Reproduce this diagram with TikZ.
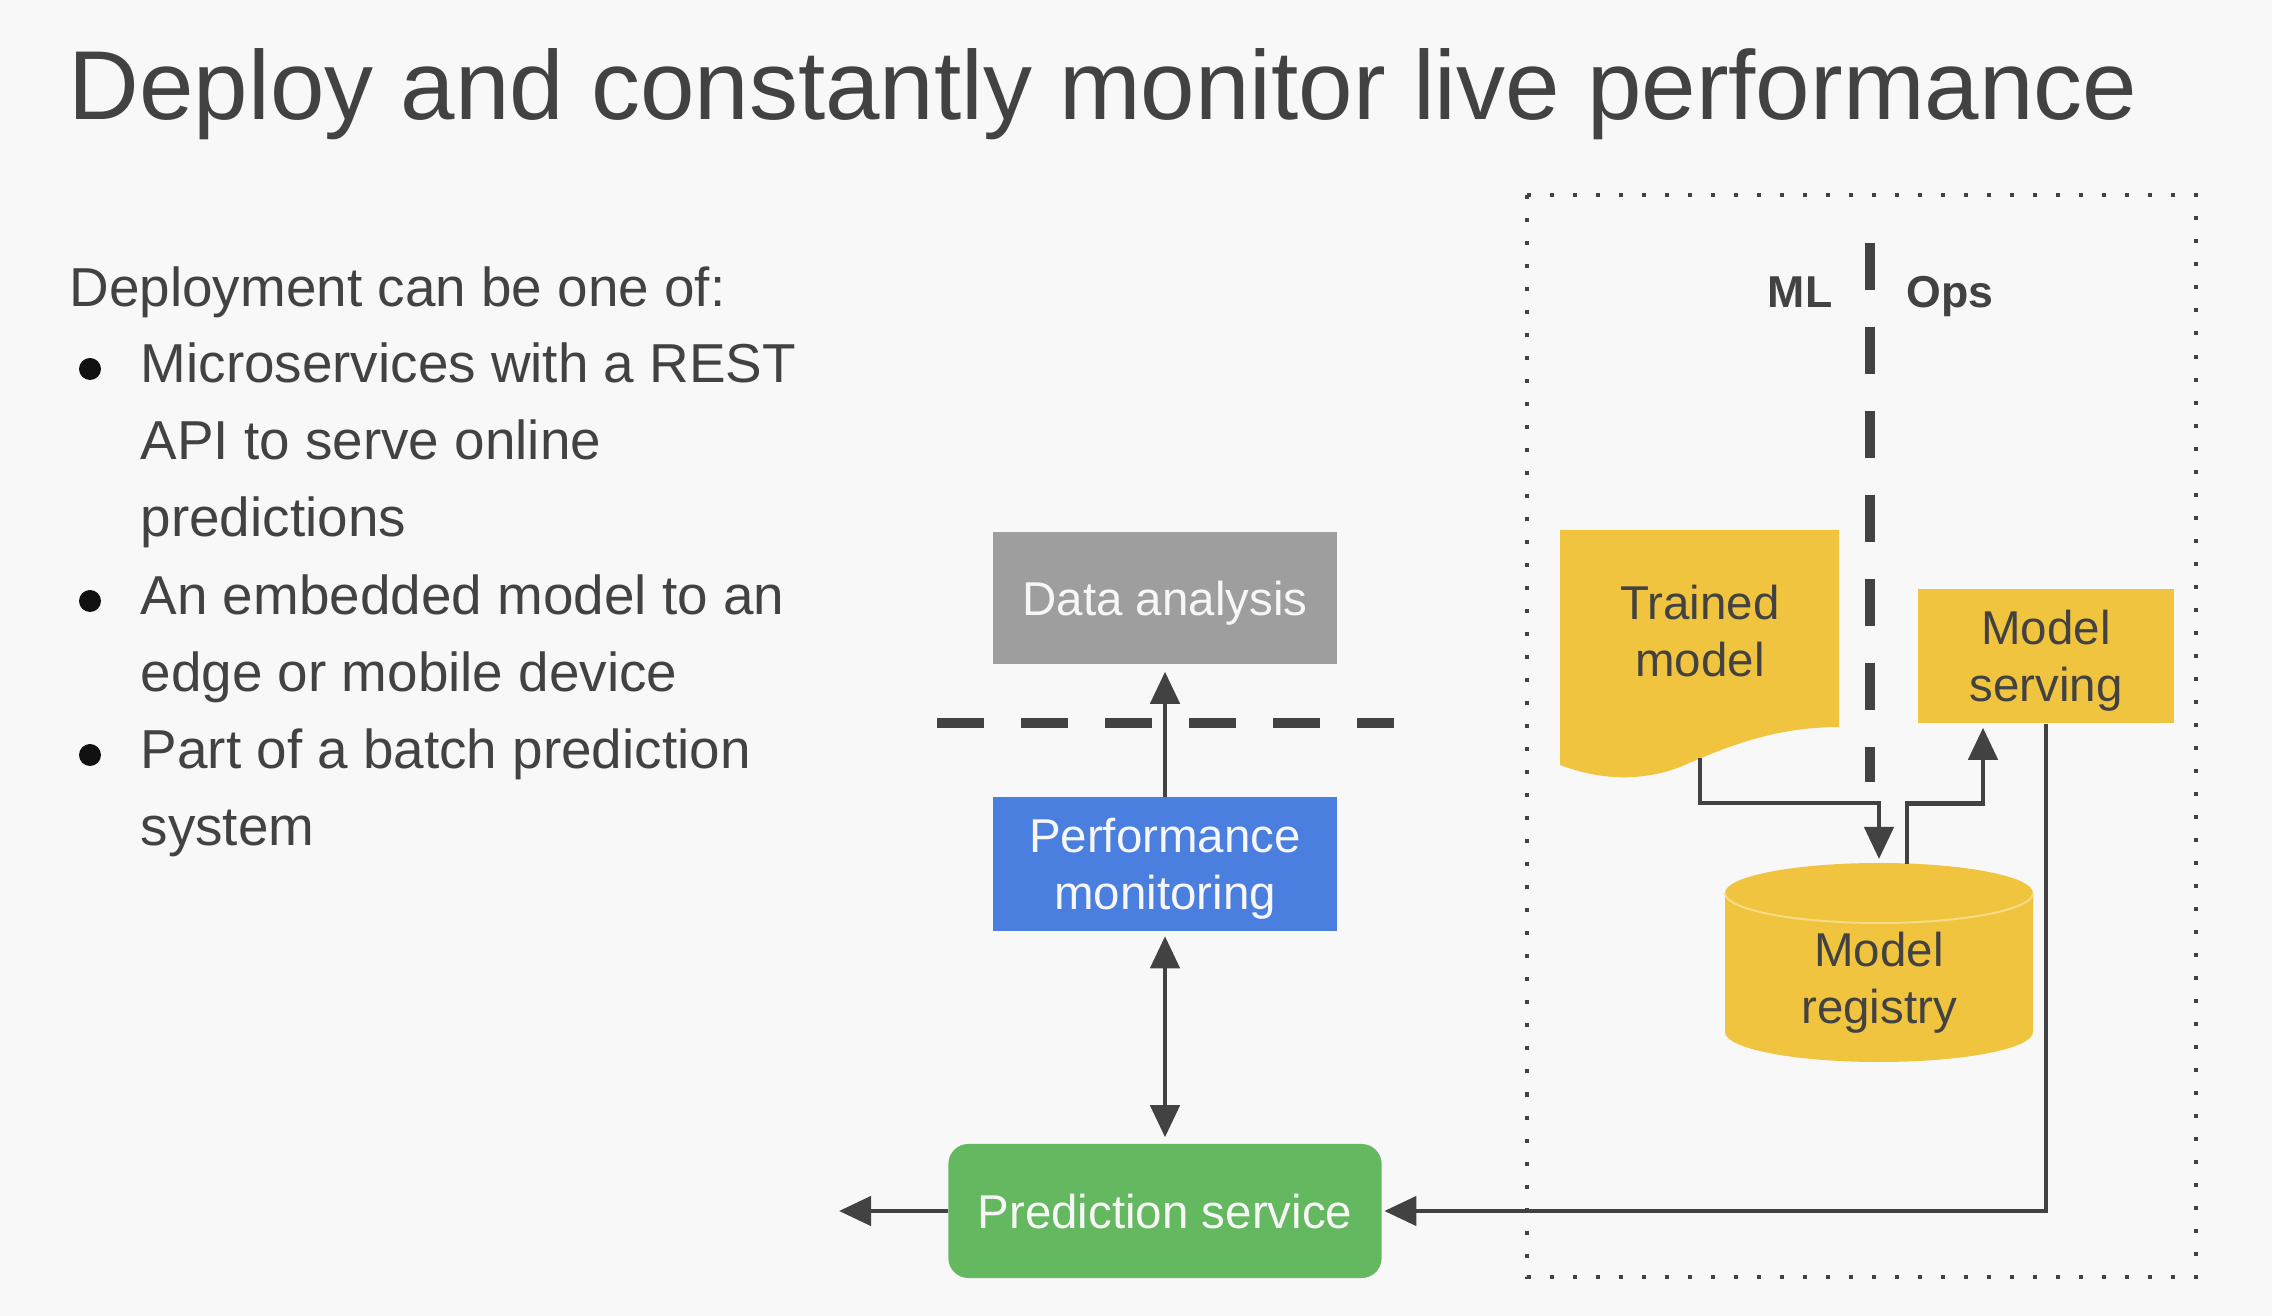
\documentclass[tikz,border=0pt]{standalone}
\usepackage{fontspec}
\setmainfont{Liberation Sans}
\usetikzlibrary{arrows.meta,calc}

\definecolor{bg}{HTML}{F8F8F8}
\definecolor{ink}{HTML}{424242}
\definecolor{dot}{HTML}{111111}
\definecolor{wire}{HTML}{424242}
\definecolor{boxgray}{HTML}{9E9E9E}
\definecolor{boxblue}{HTML}{4A7FE0}
\definecolor{boxgreen}{HTML}{63B860}
\definecolor{boxyellow}{HTML}{F0C43E}
\definecolor{rimyellow}{HTML}{F8DC85}
\definecolor{paletext}{HTML}{F7F7F7}

\begin{document}
\begin{tikzpicture}[x=0.01cm,y=-0.01cm,
  headline/.style={anchor=base west, inner sep=0, text=ink, font=\fontsize{27.85}{30}\selectfont},
  body/.style={anchor=base west, inner sep=0, text=ink, font=\fontsize{15.6}{21.9}\selectfont},
  block/.style={inner sep=0, align=center, font=\fontsize{13.5}{16.2}\selectfont},
  filled/.style={block, text depth=0pt},
  side/.style={inner sep=0, text=ink, font=\bfseries\fontsize{12.7}{15}\selectfont},
  conn/.style={draw=wire, line width=0.045cm},
  tip/.tip={Triangle[length=0.32cm,width=0.29cm]},
  arr/.style={conn, -tip},
  split/.style={draw=wire, line width=0.1cm, dash pattern=on 0.47cm off 0.37cm},
  frame/.style={draw=wire, line width=0.04cm, dash pattern=on 0.04cm off 0.19cm},
]
% page
\fill[bg] (0,0) rectangle (2272,1316);
\useasboundingbox (0,0) rectangle (2272,1316);

% heading
\node[headline] (title) at (68,120) {Deploy and constantly monitor live performance};

% bullet list
\node[body] (lead) at (69,307) {Deployment can be one of:};
\node[body] (i1a) at (140,383) {Microservices with a REST};
\node[body] (i1b) at (140,460) {API to serve online};
\node[body] (i1c) at (140,537) {predictions};
\node[body] (i2a) at (140,615) {An embedded model to an};
\node[body] (i2b) at (140,692) {edge or mobile device};
\node[body] (i3a) at (140,769) {Part of a batch prediction};
\node[body] (i3b) at (140,846) {system};
\foreach \y in {369,601,755} \fill[dot] (90,\y) circle[radius=11];

% ML / Ops area
\draw[frame] (1527,195) rectangle (2196,1277);
\draw[split] (1870,243) -- (1870,782);
\node[side, anchor=base east] (ml) at (1833,308) {ML};
\node[side, anchor=base west] (ops) at (1906,308) {Ops};

% trained model (document shape)
\fill[boxyellow] (1560,530) -- (1839,530) -- (1839,727)
  .. controls (1770,727) and (1720,750) .. (1680,767)
  .. controls (1640,782) and (1600,780) .. (1560,765) -- cycle;
\node[block, text=ink] (tm) at (1700,631) {Trained\\model};
\coordinate (tmfoot) at (1700,758);

% model registry (cylinder)
\fill[boxyellow] (1725,893) -- (1725,1032)
  arc[start angle=180,end angle=0,x radius=154,y radius=30] -- (2033,893)
  arc[start angle=0,end angle=-180,x radius=154,y radius=30] -- cycle;
\draw[rimyellow, line width=0.02cm] (1725,893)
  arc[start angle=180,end angle=0,x radius=154,y radius=30];
\node[block, text=ink] (mr) at (1879,983) {Model\\registry};
\coordinate (mrin) at (1879,864);
\coordinate (mrout) at (1907,864);

% model serving
\node[filled, fill=boxyellow, text=ink, minimum width=2.56cm, minimum height=1.34cm] (ms) at (2046,656) {Model\\serving};

% monitoring column
\node[filled, fill=boxgray, text=paletext, minimum width=3.44cm, minimum height=1.32cm] (da) at (1165,598) {Data analysis};
\node[filled, fill=boxblue, text=paletext, minimum width=3.44cm, minimum height=1.33cm] (pm) at (1165,864) {Performance\\monitoring};
\node[filled, fill=boxgreen, text=paletext, minimum width=4.33cm, minimum height=1.34cm, rounded corners=0.2cm] (ps) at (1165,1211) {Prediction service};
\coordinate (out) at (839,1211);
\draw[split] (937,723) -- (1394,723);

% connectors
\draw[arr, shorten >=0.07cm] (pm.north) -- (da.south);
\draw[conn, tip-tip, shorten <=0.05cm, shorten >=0.06cm] (pm.south) -- (ps.north);
\draw[arr] (ps.west) -- (out);
\draw[arr, shorten >=0.02cm] (ms.south) |- (ps.east);
\draw[arr, shorten >=0.05cm] (tmfoot) |- ($(mrin)+(0,-61)$) -- (mrin);
\draw[arr, shorten >=0.04cm] (mrout) |- ($(ms.south)+(-63,80)$) -- ($(ms.south)+(-63,0)$);
\end{tikzpicture}
\end{document}
